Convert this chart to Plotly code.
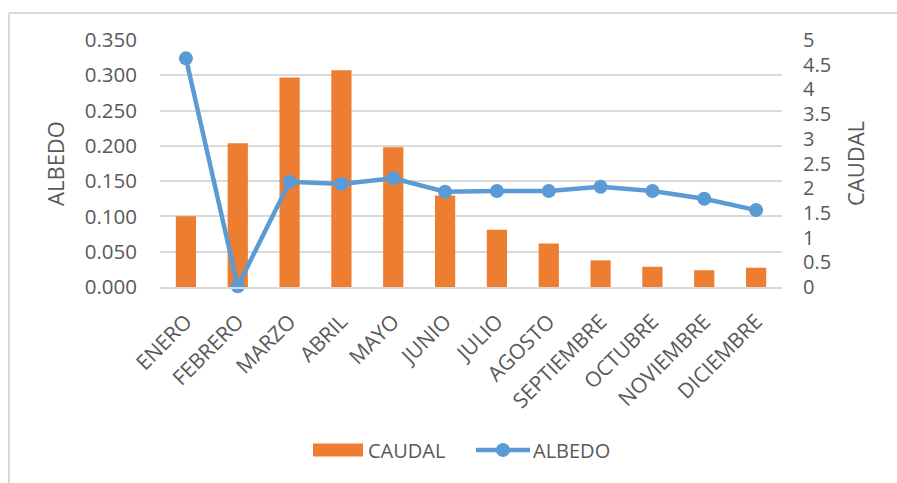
import plotly.graph_objects as go

# Monthly data
meses = ["ENERO", "FEBRERO", "MARZO", "ABRIL", "MAYO", "JUNIO", "JULIO",
         "AGOSTO", "SEPTIEMBRE", "OCTUBRE", "NOVIEMBRE", "DICIEMBRE"]
caudal = [1.43, 2.91, 4.24, 4.39, 2.83, 1.85, 1.16, 0.88, 0.54, 0.41, 0.34, 0.39]
albedo = [0.324, 0.001, 0.149, 0.146, 0.154, 0.135, 0.136, 0.136, 0.142, 0.136, 0.125, 0.109]

albedo_ticks = [0, 0.05, 0.10, 0.15, 0.20, 0.25, 0.30, 0.35]
caudal_ticks = [0, 0.5, 1, 1.5, 2, 2.5, 3, 3.5, 4, 4.5, 5]

FONT = "Open Sans"
GRAY = "#595959"
GRID = "#d9d9d9"
ORANGE = "#ed7d31"
BLUE = "#5b9bd5"

W, H = 897, 483
L, R, T, B = 160, 115, 40, 196
pw, ph = W - L - R, H - T - B


def px_x(v):
    return (v - L) / pw


def px_y(v):
    return (H - B - v) / ph


fig = go.Figure()
fig.add_trace(go.Bar(
    x=meses, y=caudal, name="CAUDAL", yaxis="y",
    marker=dict(color=ORANGE, line=dict(width=0)),
))
fig.add_trace(go.Scatter(
    x=meses, y=albedo, name="ALBEDO", yaxis="y2", mode="lines+markers",
    line=dict(color=BLUE, width=4.5),
    marker=dict(color=BLUE, size=14),
    cliponaxis=False,
))

# Legend drawn as shapes + text, centred under the plot
ly = px_y(450)
shapes = [
    # chart border
    dict(type="line", xref="paper", yref="paper",
         x0=px_x(9), x1=px_x(9), y0=px_y(13), y1=px_y(490),
         line=dict(color=GRID, width=2)),
    dict(type="line", xref="paper", yref="paper",
         x0=px_x(9), x1=px_x(900), y0=px_y(13), y1=px_y(13),
         line=dict(color=GRID, width=2)),
    # legend swatches
    dict(type="rect", xref="paper", yref="paper",
         x0=px_x(313), x1=px_x(363), y0=px_y(443.5), y1=px_y(456.5),
         fillcolor=ORANGE, line=dict(width=0)),
    dict(type="line", xref="paper", yref="paper",
         x0=px_x(476), x1=px_x(530), y0=ly, y1=ly,
         line=dict(color=BLUE, width=4.5)),
    dict(type="circle", xref="paper", yref="paper",
         x0=px_x(496), x1=px_x(510), y0=px_y(443), y1=px_y(457),
         fillcolor=BLUE, line=dict(width=0)),
]
annotations = [
    dict(text="CAUDAL", xref="paper", yref="paper", x=px_x(366), y=ly,
         xanchor="left", yanchor="middle", showarrow=False,
         font=dict(size=20, color=GRAY)),
    dict(text="ALBEDO", xref="paper", yref="paper", x=px_x(531), y=ly,
         xanchor="left", yanchor="middle", showarrow=False,
         font=dict(size=20, color=GRAY)),
]

fig.update_layout(
    width=W, height=H,
    margin=dict(l=L, r=R, t=T, b=B, autoexpand=False),
    paper_bgcolor="white", plot_bgcolor="white",
    font=dict(family=FONT, color=GRAY, size=20),
    bargap=0.61,
    showlegend=False,
    xaxis=dict(
        range=[-0.5, 11.5], tickangle=-45, showgrid=False, showline=True,
        linecolor=GRID, linewidth=2, ticks="",
        tickfont=dict(size=21, color=GRAY), ticklabelstandoff=12,
        automargin=False,
    ),
    yaxis=dict(
        side="right", range=[0, 5], tickvals=caudal_ticks,
        ticktext=[f"{v:g}" for v in caudal_ticks],
        showgrid=False, zeroline=False, showline=False, ticks="",
        tickfont=dict(size=20, color=GRAY), ticklabelstandoff=20,
        title=dict(text="CAUDAL", font=dict(size=22, color=GRAY), standoff=18),
        automargin=False,
    ),
    yaxis2=dict(
        side="left", overlaying="y", range=[0, 0.35], tickvals=albedo_ticks,
        ticktext=[f"{v:.3f}" for v in albedo_ticks],
        showgrid=True, gridcolor=GRID, gridwidth=2, zeroline=False, showline=False,
        ticks="", tickfont=dict(size=20.5, color=GRAY), ticklabelstandoff=22,
        title=dict(text="ALBEDO", font=dict(size=22, color=GRAY), standoff=14),
        automargin=False,
    ),
    shapes=shapes,
    annotations=annotations,
)

fig.write_html("out.html")
